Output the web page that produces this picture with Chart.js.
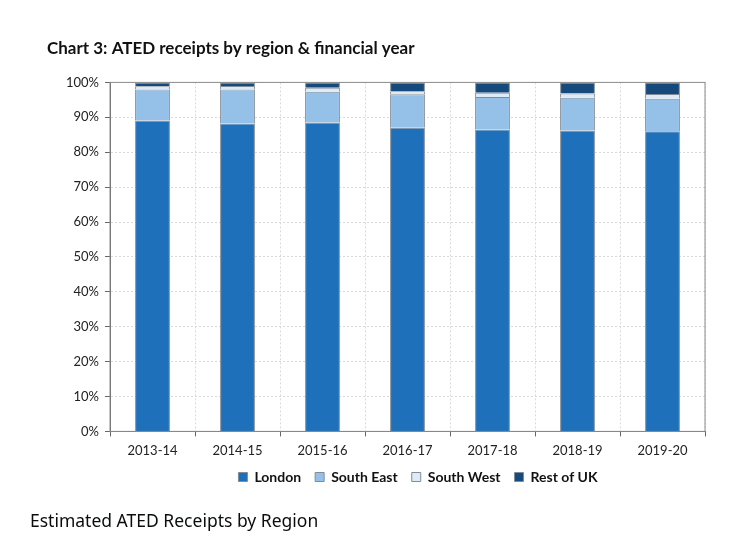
<!DOCTYPE html>
<html>
<head>
<meta charset="utf-8">
<script src="https://cdn.jsdelivr.net/npm/chart.js@4/dist/chart.umd.min.js"></script>
<style>
  body { margin: 0; background: #fff; width: 756px; height: 556px; overflow: hidden; position: relative; }
  #wrap { position: absolute; left: 0; top: 0; width: 756px; height: 510px; }
  #caption { position: absolute; left: 30px; top: 508px; font-family: "Noto Sans", sans-serif; font-size: 17.5px; color: #0b0c0c; }
</style>
</head>
<body>
<div id="wrap"><canvas id="myChart"></canvas></div>
<div id="caption">Estimated ATED Receipts by Region</div>
<script>
const years = ["2013-14", "2014-15", "2015-16", "2016-17", "2017-18", "2018-19", "2019-20"];
const london = [89.1, 88.2, 88.5, 87.0, 86.5, 86.2, 86.0];
const southEast = [8.9, 9.8, 8.8, 9.6, 9.3, 9.4, 9.3];
const southWest = [0.9, 1.0, 1.2, 0.9, 1.2, 1.2, 1.4];
const restOfUK = [1.1, 1.0, 1.5, 2.5, 3.0, 3.2, 3.3];

const font = "Lato, 'Open Sans', sans-serif";

// grey frame round the plot area, like the spreadsheet chart
const frame = {
  id: "frame",
  afterLayout: (chart) => {
    // legend sits centred under the plot, a bit closer to the axis labels
    const lg = chart.legend;
    lg.left += 42;
    lg.right += 42;
    lg.top -= 10;
    lg.bottom -= 10;
  },
  afterDraw: (chart) => {
    const { ctx, chartArea } = chart;
    ctx.save();
    ctx.strokeStyle = "#8c8c8c";
    ctx.lineWidth = 1;
    ctx.strokeRect(chartArea.left, chartArea.top, chartArea.right - chartArea.left, chartArea.bottom - chartArea.top);
    ctx.restore();
  },
};

const makeSet = (label, data, color) => ({
  label: label,
  data: data,
  backgroundColor: color,
  borderColor: "#7f8c99",
  borderWidth: 1,
  barPercentage: 0.82,
  categoryPercentage: 0.5,
});

const config = {
  type: "bar",
  data: {
    labels: years,
    datasets: [
      makeSet("London", london, "#1f70ba"),
      makeSet("South East", southEast, "#95c1e9"),
      makeSet("South West", southWest, "#deebf7"),
      makeSet("Rest of UK", restOfUK, "#174a7c"),
    ],
  },
  plugins: [frame],
  options: {
    responsive: true,
    maintainAspectRatio: false,
    animation: false,
    layout: { padding: { left: 47, right: 51, top: 38, bottom: 6 } },
    plugins: {
      title: {
        display: true,
        text: "Chart 3: ATED receipts by region & financial year",
        align: "start",
        color: "#111",
        font: { family: font, size: 17, weight: "bold" },
        padding: { top: 0, bottom: 24 },
      },
      legend: {
        position: "bottom",
        labels: {
          boxWidth: 9,
          boxHeight: 9,
          color: "#111",
          font: { family: font, size: 14, weight: "bold" },
          padding: 14,
        },
      },
      tooltip: { enabled: false },
    },
    scales: {
      x: {
        stacked: true,
        grid: { color: "#d9d9d9", tickColor: "#666", tickLength: 5, tickBorderDash: [] },
        border: { color: "#666", dash: [2, 2] },
        ticks: { color: "#222", font: { family: font, size: 13 }, padding: 7 },
      },
      y: {
        stacked: true,
        min: 0,
        max: 100,
        afterFit: (scale) => { scale.width = 63; },
        grid: { color: "#d9d9d9", tickColor: "#666", tickLength: 5, tickBorderDash: [] },
        border: { color: "#666", dash: [2, 2] },
        ticks: {
          stepSize: 10,
          color: "#222",
          font: { family: font, size: 13 },
          padding: 6,
          callback: (v) => v + "%",
        },
      },
    },
  },
};

const myChart = new Chart(document.getElementById("myChart"), config);
</script>
</body>
</html>
